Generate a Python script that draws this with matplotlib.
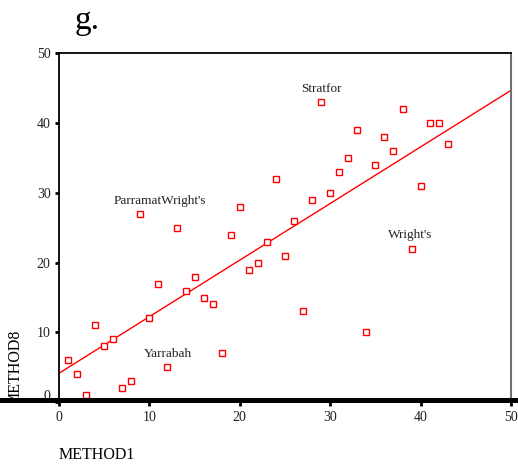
import matplotlib.pyplot as plt
import numpy as np
from matplotlib.lines import Line2D
from matplotlib.patches import Rectangle
from matplotlib.transforms import ScaledTranslation

plt.rcParams['font.family'] = ['Liberation Serif', 'DejaVu Serif']

# rank scores of the two methods
method1 = [1, 2, 3, 4, 5, 6, 7, 8, 9, 10, 11, 12, 13, 14, 15, 16, 17, 18, 19, 20, 21, 22,
           23, 24, 25, 26, 27, 28, 29, 30, 31, 32, 33, 34, 35, 36, 37, 38, 39, 40, 41, 42, 43]
method8 = [6, 4, 1, 11, 8, 9, 2, 3, 27, 12, 17, 5, 25, 16, 18, 15, 14, 7, 24, 28, 19, 20,
           23, 32, 21, 26, 13, 29, 43, 30, 33, 35, 39, 10, 34, 38, 36, 42, 22, 31, 40, 40, 37]

label_text = ['Stratfor', "ParramatWright's", "Wright's", 'Yarrabah']
label_x = [29, 11.2, 38.9, 12]
label_y = [44.9, 28.8, 23.9, 6.9]

ticks = [0, 10, 20, 30, 40, 50]

fig = plt.figure(figsize=(5.18, 4.72), dpi=100)
ax = fig.add_axes([59 / 518, 1 - 402.3 / 472, 452 / 518, 349.3 / 472])

x = np.array(method1, dtype=float)
y = np.array(method8, dtype=float)
ax.plot(x, y, 's', ms=5, mfc='white', mec='red', mew=1, zorder=3)

slope, icpt = np.polyfit(x, y, 1)
xx = np.array([0, 50])
ax.plot(xx, icpt + slope * xx, color='red', lw=1, zorder=2)

for t, lx, ly in zip(label_text, label_x, label_y):
    ax.text(lx, ly, t, ha='center', va='center', fontsize=9.5, color='#222222')

ax.set_xlim(0, 50)
ax.set_ylim(0, 50)
ax.set_xticks(ticks)
ax.set_yticks(ticks)
ax.tick_params(axis='both', labelsize=10, length=3, width=2, direction='out', pad=3,
               labelcolor='#222222')

ax.spines['bottom'].set_visible(False)
ax.spines['top'].set_linewidth(1.3)
ax.spines['left'].set_linewidth(1.3)
ax.spines['right'].set_color('#707070')
ax.spines['right'].set_linewidth(1.5)

# lift the 0 label above the thick baseline
lbl0 = ax.get_yticklabels()[0]
lbl0.set_transform(lbl0.get_transform() + ScaledTranslation(0, 0.07, fig.dpi_scale_trans))

ybar = 1 - 400.2 / 472

ax.set_xlabel('METHOD1', fontsize=11.5)
ax.xaxis.set_label_coords(0.083, -0.151)
ax.xaxis.label.set_va('center')
ax.set_ylabel('METHOD8', fontsize=11.5)
ax.yaxis.set_label_coords(-0.097, 0.098)
ax.yaxis.label.set_va('center')
ax.yaxis.label.set_clip_path(Rectangle((0, ybar), 1, 1, transform=fig.transFigure))

# heavy baseline running across the whole figure
fig.add_artist(Line2D([0, 1], [ybar, ybar], transform=fig.transFigure, color='black', lw=3.6, zorder=5))

fig.text(75 / 518, 1 - 6 / 472, 'g.', fontsize=24, ha='left', va='top')

fig.savefig('out.png', dpi=100)
